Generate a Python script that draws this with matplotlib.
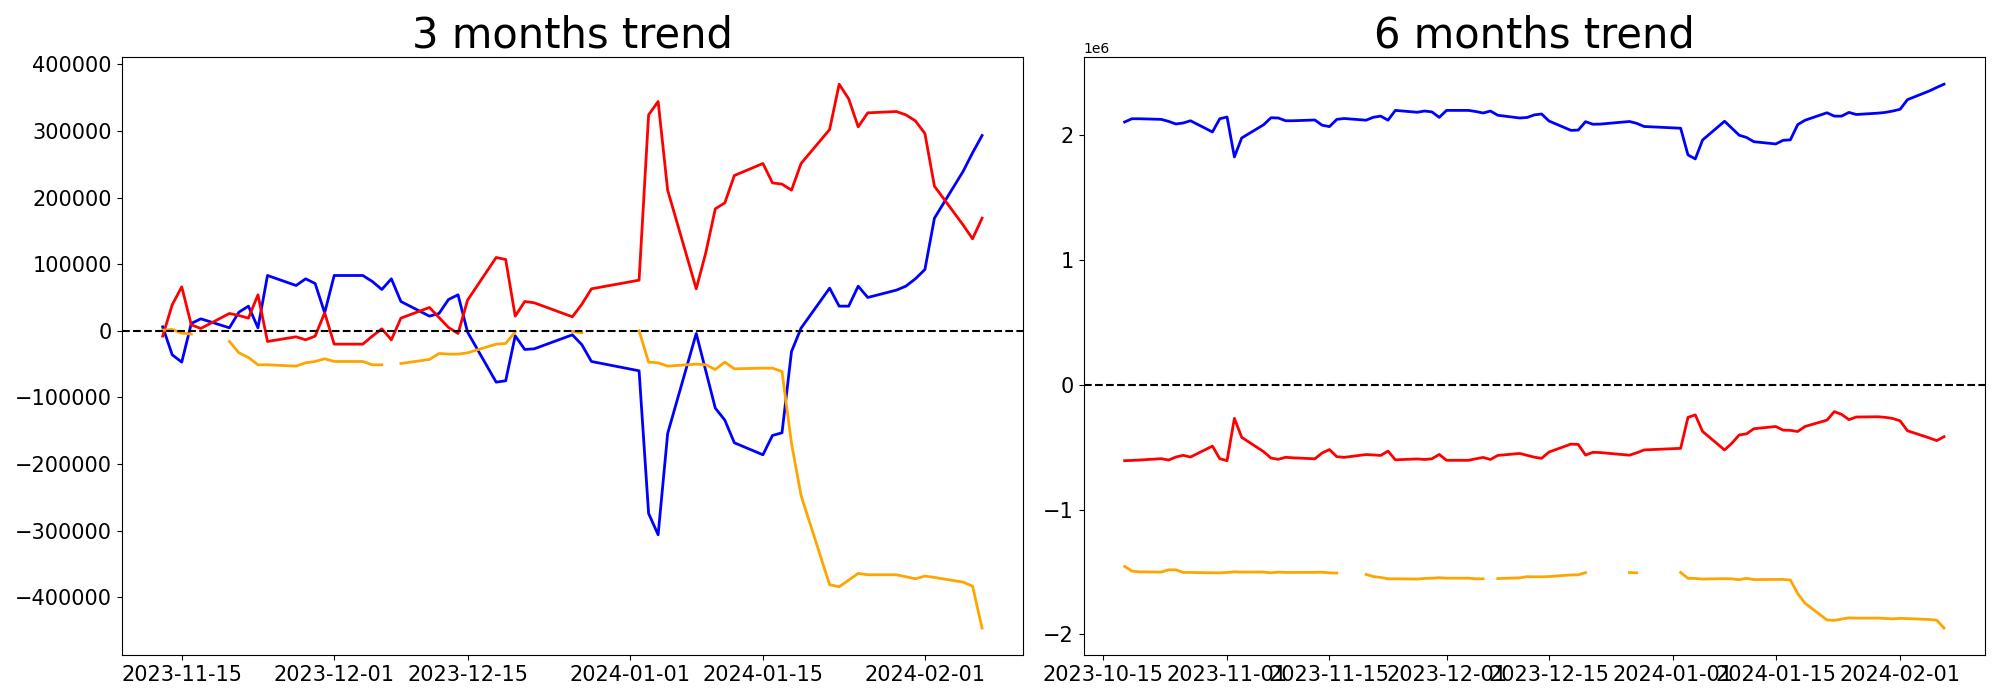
import matplotlib
matplotlib.use("Agg")
import matplotlib.pyplot as plt
import numpy as np
import pandas as pd

nan = np.nan

# trading days (KRX) shown in the 6 months panel
dates_6m = [
    "2023-10-18", "2023-10-19", "2023-10-20", "2023-10-23", "2023-10-24", "2023-10-25",
    "2023-10-26", "2023-10-27", "2023-10-30", "2023-10-31", "2023-11-01", "2023-11-02",
    "2023-11-03", "2023-11-06", "2023-11-07", "2023-11-08", "2023-11-09", "2023-11-10",
    "2023-11-13", "2023-11-14", "2023-11-15", "2023-11-16", "2023-11-17", "2023-11-20",
    "2023-11-21", "2023-11-22", "2023-11-23", "2023-11-24", "2023-11-27", "2023-11-28",
    "2023-11-29", "2023-11-30", "2023-12-01", "2023-12-04", "2023-12-05", "2023-12-06",
    "2023-12-07", "2023-12-08", "2023-12-11", "2023-12-12", "2023-12-13", "2023-12-14",
    "2023-12-15", "2023-12-18", "2023-12-19", "2023-12-20", "2023-12-21", "2023-12-22",
    "2023-12-26", "2023-12-27", "2023-12-28", "2024-01-02", "2024-01-03", "2024-01-04",
    "2024-01-05", "2024-01-08", "2024-01-09", "2024-01-10", "2024-01-11", "2024-01-12",
    "2024-01-15", "2024-01-16", "2024-01-17", "2024-01-18", "2024-01-19", "2024-01-22",
    "2024-01-23", "2024-01-24", "2024-01-25", "2024-01-26", "2024-01-29", "2024-01-30",
    "2024-01-31", "2024-02-01", "2024-02-02", "2024-02-05", "2024-02-06", "2024-02-07",
]
# the 3 months panel starts on 2023-11-13
dates_3m = dates_6m[18:]

# 3 months trend (cumulative)
blue_3m = [
    6000, -36000, -47000, 11000, 18000, 4500, 28000, 37000, 4500, 83000,
    68000, 78000, 71000, 27000, 83000, 83000, 74000, 62000, 78000, 44000,
    22000, 26000, 47000, 54000, -2000, -77000, -75000, -7500, -28000, -27000,
    -6000, -21000, -46000, -60000, -274000, -306000, -154000, -4000, -60000, -116000,
    -134000, -168000, -186000, -157000, -153000, -31000, 4000, 64000, 37000, 37000,
    67000, 50000, 61000, 67000, 78000, 92000, 169000, 239000, 267000, 293000,
]
red_3m = [
    -8000, 39000, 66000, 9000, 3500, 26000, 23000, 19000, 54000, -16000,
    -9000, -13500, -8000, 27000, -20000, -20000, -8000, 3000, -13500, 19000,
    35000, 20000, 5000, -4000, 46000, 110000, 107000, 22000, 44000, 42000,
    21000, 40000, 63000, 76000, 324000, 344000, 211000, 63000, 117000, 183000,
    192000, 233000, 251000, 222000, 220000, 211000, 251000, 302000, 370000, 348000,
    306000, 327000, 329000, 324000, 315000, 296000, 217000, 159000, 138000, 169000,
]
orange_3m = [
    1000, 2000, -3500, -5000, nan, -16000, -33000, -40000, -51000, -51000,
    -53000, -48000, -46000, -42000, -46000, -46000, -51000, -51000, nan, -49000,
    -43000, -34000, -35000, -35000, -33000, -20000, -19000, -1500, nan, nan,
    -1000, -3000, nan, 0, -47000, -48000, -53000, -50000, -51000, -58000,
    -47000, -57000, -56000, -56000, -61000, -169000, -247000, -381000, -384000, -374000,
    -364000, -366000, -366000, -369000, -372000, -368000, -370000, -377000, -383000, -446000,
]

# 6 months trend (levels)
blue_6m = [
    2107000, 2133000, 2133000, 2128000, 2112000, 2091000, 2099000, 2117000, 2027000, 2133000,
    2147000, 1827000, 1979000, 2085000, 2141000, 2139000, 2117000, 2117000,
    2123000, 2081000, 2070000, 2128000, 2135000, 2121500, 2145000, 2154000, 2121500, 2200000,
    2185000, 2195000, 2188000, 2144000, 2200000, 2200000, 2191000, 2179000, 2195000, 2161000,
    2139000, 2143000, 2164000, 2171000, 2115000, 2040000, 2042000, 2109500, 2089000, 2090000,
    2111000, 2096000, 2071000, 2057000, 1843000, 1811000, 1963000, 2113000, 2057000, 2001000,
    1983000, 1949000, 1931000, 1960000, 1964000, 2086000, 2121000, 2181000, 2154000, 2154000,
    2184000, 2167000, 2178000, 2184000, 2195000, 2209000, 2286000, 2356000, 2384000, 2410000,
]
red_6m = [
    -608000, -606000, -603000, -592000, -603000, -579000, -565000, -579000, -491000, -592000,
    -608000, -269000, -421000, -536000, -587000, -597000, -581000, -585000,
    -593000, -546000, -519000, -576000, -581500, -559000, -562000, -566000, -531000, -601000,
    -594000, -598500, -593000, -558000, -605000, -605000, -593000, -582000, -598500, -566000,
    -550000, -565000, -580000, -589000, -539000, -475000, -478000, -563000, -541000, -543000,
    -564000, -545000, -522000, -509000, -261000, -241000, -374000, -522000, -468000, -402000,
    -393000, -352000, -334000, -363000, -365000, -374000, -334000, -283000, -215000, -237000,
    -279000, -258000, -256000, -261000, -270000, -289000, -368000, -426000, -447000, -416000,
]
orange_6m = [
    -1456000, -1493000, -1499000, -1501000, -1483000, -1483000, -1504000, -1504000, -1507000, -1507000,
    -1504000, -1499000, -1501000, -1501000, -1507000, -1501000, -1504000, -1504000,
    -1503000, -1502000, -1507500, -1509000, nan, -1520000, -1537000, -1544000, -1555000, -1555000,
    -1557000, -1552000, -1550000, -1546000, -1550000, -1550000, -1555000, -1555000, nan, -1553000,
    -1547000, -1538000, -1539000, -1539000, -1537000, -1524000, -1523000, -1505500, nan, nan,
    -1505000, -1507000, nan, -1504000, -1551000, -1552000, -1557000, -1554000, -1555000, -1562000,
    -1551000, -1561000, -1560000, -1560000, -1565000, -1673000, -1751000, -1885000, -1888000, -1878000,
    -1868000, -1870000, -1870000, -1873000, -1876000, -1872000, -1874000, -1881000, -1887000, -1950000,
]


def draw_trend(ax, dates, blue, red, orange, title):
    x = pd.to_datetime(dates)
    ax.plot(x, blue, color="blue", linewidth=2)
    ax.plot(x, red, color="red", linewidth=2)
    ax.plot(x, orange, color="orange", linewidth=2)
    ax.axhline(0, color="black", linestyle="--")
    ax.set_title(title, fontsize=30)
    ax.tick_params(labelsize=15)


def draw():
    fig, axes = plt.subplots(1, 2, figsize=(20, 7), dpi=100)
    draw_trend(axes[0], dates_3m, blue_3m, red_3m, orange_3m, "3 months trend")
    draw_trend(axes[1], dates_6m, blue_6m, red_6m, orange_6m, "6 months trend")
    plt.tight_layout()
    plt.savefig("out.png")


if __name__ == '__main__':
    draw()
